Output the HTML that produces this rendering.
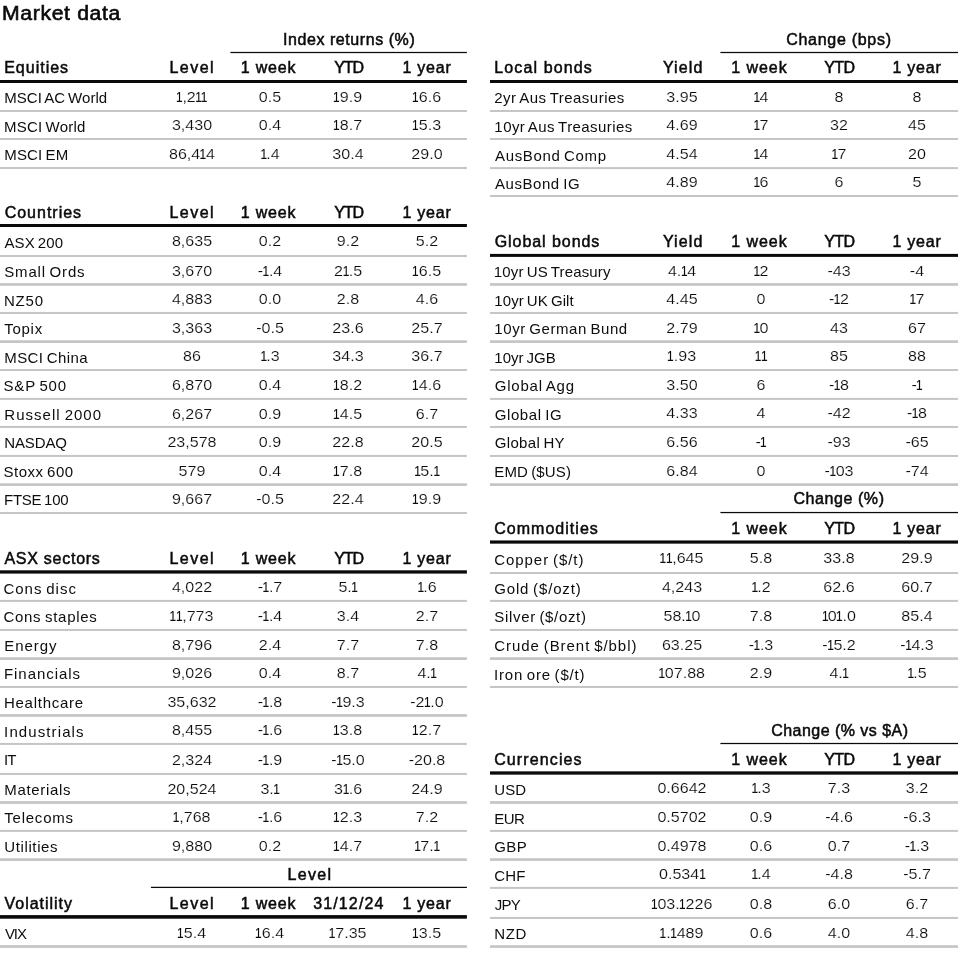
<!DOCTYPE html>
<html lang="en"><head><meta charset="utf-8"><title>Market data</title>
<style>
html,body{margin:0;padding:0;background:#fff;overflow:hidden}
main{position:absolute;left:0;top:0;width:960px;height:962px;overflow:hidden}
body{width:960px;height:962px;position:relative;overflow:hidden;filter:grayscale(1) blur(0.3px);font-family:"Liberation Sans",Arial,sans-serif}
svg.ln{position:absolute;left:0;top:0}
span,h1{position:absolute;white-space:pre;line-height:20px;margin:0;font-weight:normal}
.title{font-size:20px;line-height:24px;color:#0a0a0a;letter-spacing:0.6px;-webkit-text-stroke:0.6px #0a0a0a;transform:scaleX(1.06);transform-origin:0 0}
.h{font-size:16px;color:#0a0a0a;-webkit-text-stroke:0.5px #0a0a0a}
.l{font-size:15px;color:#0d0d0d;word-spacing:-1.2px}
.n{font-size:15px;color:#0d0d0d;width:76px;text-align:center;transform:scaleX(1.07);-webkit-text-stroke:0.16px #fff}
.n i{font-style:normal;display:inline-block;position:static;transform:scaleX(.74);margin:0 -1.4px 0 -1.5px;-webkit-text-stroke:0.12px #0d0d0d}
</style></head>
<body>
<main>
<svg class="ln" width="960" height="962" viewBox="0 0 960 962">
<rect x="230.40" y="51.88" width="236.50" height="1.25" fill="#0a0a0a"/>
<rect x="0.00" y="80.00" width="466.90" height="3.00" fill="#0a0a0a"/>
<rect x="0.00" y="110.00" width="466.90" height="2.00" fill="#c3c5c8"/>
<rect x="0.00" y="138.00" width="466.90" height="2.00" fill="#c3c5c8"/>
<rect x="0.00" y="167.00" width="466.90" height="2.00" fill="#c3c5c8"/>
<rect x="0.00" y="224.00" width="466.90" height="3.00" fill="#0a0a0a"/>
<rect x="0.00" y="255.00" width="466.90" height="2.00" fill="#c3c5c8"/>
<rect x="0.00" y="283.10" width="466.90" height="2.70" fill="#c3c5c8"/>
<rect x="0.00" y="311.95" width="466.90" height="2.00" fill="#c3c5c8"/>
<rect x="0.00" y="340.25" width="466.90" height="2.70" fill="#c3c5c8"/>
<rect x="0.00" y="369.00" width="466.90" height="2.00" fill="#c3c5c8"/>
<rect x="0.00" y="397.90" width="466.90" height="2.00" fill="#c3c5c8"/>
<rect x="0.00" y="425.95" width="466.90" height="2.00" fill="#c3c5c8"/>
<rect x="0.00" y="454.95" width="466.90" height="2.00" fill="#c3c5c8"/>
<rect x="0.00" y="483.25" width="466.90" height="2.70" fill="#c3c5c8"/>
<rect x="0.00" y="512.00" width="466.90" height="2.00" fill="#c3c5c8"/>
<rect x="0.00" y="570.30" width="466.90" height="3.30" fill="#0a0a0a"/>
<rect x="0.00" y="599.90" width="466.90" height="2.00" fill="#c3c5c8"/>
<rect x="0.00" y="628.95" width="466.90" height="2.00" fill="#c3c5c8"/>
<rect x="0.00" y="657.25" width="466.90" height="2.70" fill="#c3c5c8"/>
<rect x="0.00" y="685.95" width="466.90" height="2.00" fill="#c3c5c8"/>
<rect x="0.00" y="714.10" width="466.90" height="2.70" fill="#c3c5c8"/>
<rect x="0.00" y="742.95" width="466.90" height="2.00" fill="#c3c5c8"/>
<rect x="0.00" y="772.95" width="466.90" height="2.00" fill="#c3c5c8"/>
<rect x="0.00" y="801.15" width="466.90" height="2.70" fill="#c3c5c8"/>
<rect x="0.00" y="829.90" width="466.90" height="2.00" fill="#c3c5c8"/>
<rect x="0.00" y="858.25" width="466.90" height="2.70" fill="#c3c5c8"/>
<rect x="150.90" y="886.77" width="316.00" height="1.25" fill="#0a0a0a"/>
<rect x="0.00" y="915.10" width="466.90" height="3.60" fill="#0a0a0a"/>
<rect x="0.00" y="945.15" width="466.90" height="2.70" fill="#c3c5c8"/>
<rect x="720.40" y="51.88" width="237.60" height="1.25" fill="#0a0a0a"/>
<rect x="490.00" y="80.00" width="468.00" height="3.00" fill="#0a0a0a"/>
<rect x="490.00" y="110.00" width="468.00" height="2.00" fill="#c3c5c8"/>
<rect x="490.00" y="138.00" width="468.00" height="2.00" fill="#c3c5c8"/>
<rect x="490.00" y="167.10" width="468.00" height="2.00" fill="#c3c5c8"/>
<rect x="490.00" y="195.00" width="468.00" height="2.00" fill="#c3c5c8"/>
<rect x="490.00" y="253.90" width="468.00" height="3.00" fill="#0a0a0a"/>
<rect x="490.00" y="283.10" width="468.00" height="2.70" fill="#c3c5c8"/>
<rect x="490.00" y="311.95" width="468.00" height="2.00" fill="#c3c5c8"/>
<rect x="490.00" y="340.25" width="468.00" height="2.70" fill="#c3c5c8"/>
<rect x="490.00" y="369.00" width="468.00" height="2.00" fill="#c3c5c8"/>
<rect x="490.00" y="397.90" width="468.00" height="2.00" fill="#c3c5c8"/>
<rect x="490.00" y="425.95" width="468.00" height="2.00" fill="#c3c5c8"/>
<rect x="490.00" y="454.95" width="468.00" height="2.00" fill="#c3c5c8"/>
<rect x="490.00" y="483.25" width="468.00" height="2.70" fill="#c3c5c8"/>
<rect x="720.40" y="511.92" width="237.60" height="1.25" fill="#0a0a0a"/>
<rect x="490.00" y="540.45" width="468.00" height="3.20" fill="#0a0a0a"/>
<rect x="490.00" y="572.00" width="468.00" height="2.00" fill="#c3c5c8"/>
<rect x="490.00" y="599.90" width="468.00" height="2.00" fill="#c3c5c8"/>
<rect x="490.00" y="628.95" width="468.00" height="2.00" fill="#c3c5c8"/>
<rect x="490.00" y="657.25" width="468.00" height="2.70" fill="#c3c5c8"/>
<rect x="490.00" y="685.95" width="468.00" height="2.00" fill="#c3c5c8"/>
<rect x="720.40" y="742.88" width="237.60" height="1.25" fill="#0a0a0a"/>
<rect x="490.00" y="771.35" width="468.00" height="3.30" fill="#0a0a0a"/>
<rect x="490.00" y="801.15" width="468.00" height="2.70" fill="#c3c5c8"/>
<rect x="490.00" y="829.90" width="468.00" height="2.00" fill="#c3c5c8"/>
<rect x="490.00" y="858.20" width="468.00" height="2.70" fill="#c3c5c8"/>
<rect x="490.00" y="886.90" width="468.00" height="2.00" fill="#c3c5c8"/>
<rect x="490.00" y="916.95" width="468.00" height="2.00" fill="#c3c5c8"/>
<rect x="490.00" y="945.20" width="468.00" height="2.70" fill="#c3c5c8"/>
</svg>
<h1 class="title" style="left:1.7px;top:1px">Market data</h1>
<section class="tb" aria-label="Equities">
<div class="r sup">
<span class="h" style="left:283.02px;top:30px;letter-spacing:0.562px">Index returns (%)</span>
</div>
<div class="r hd">
<span class="h" style="left:4.19px;top:58px;letter-spacing:0.996px">Equities</span>
<span class="h" style="left:169.44px;top:58px;letter-spacing:1.471px">Level</span>
<span class="h" style="left:240.78px;top:58px;letter-spacing:0.798px">1 week</span>
<span class="h" style="left:334.15px;top:58px;letter-spacing:-1.066px">YTD</span>
<span class="h" style="left:402.53px;top:58px;letter-spacing:0.753px">1 year</span>
</div>
<div class="r">
<span class="l" style="left:4.27px;top:88px;letter-spacing:0.050px">MSCI AC World</span>
<span class="n" style="left:154.00px;top:87px"><i>1</i>,2<i>1</i><i>1</i></span>
<span class="n" style="left:231.90px;top:87px">0.5</span>
<span class="n" style="left:310.40px;top:87px"><i>1</i>9.9</span>
<span class="n" style="left:389.30px;top:87px"><i>1</i>6.6</span>
</div>
<div class="r">
<span class="l" style="left:3.97px;top:117px;letter-spacing:0.235px">MSCI World</span>
<span class="n" style="left:154.00px;top:115px">3,430</span>
<span class="n" style="left:231.90px;top:115px">0.4</span>
<span class="n" style="left:310.40px;top:115px"><i>1</i>8.7</span>
<span class="n" style="left:389.30px;top:115px"><i>1</i>5.3</span>
</div>
<div class="r">
<span class="l" style="left:4.27px;top:145px;letter-spacing:0.165px">MSCI EM</span>
<span class="n" style="left:154.00px;top:144px">86,4<i>1</i>4</span>
<span class="n" style="left:231.90px;top:144px"><i>1</i>.4</span>
<span class="n" style="left:310.40px;top:144px">30.4</span>
<span class="n" style="left:389.30px;top:144px">29.0</span>
</div>
</section>
<section class="tb" aria-label="Countries">
<div class="r hd">
<span class="h" style="left:4.69px;top:203px;letter-spacing:0.988px">Countries</span>
<span class="h" style="left:169.44px;top:203px;letter-spacing:1.471px">Level</span>
<span class="h" style="left:240.78px;top:203px;letter-spacing:0.798px">1 week</span>
<span class="h" style="left:334.15px;top:203px;letter-spacing:-1.066px">YTD</span>
<span class="h" style="left:402.53px;top:203px;letter-spacing:0.753px">1 year</span>
</div>
<div class="r">
<span class="l" style="left:4.47px;top:233px;letter-spacing:0.099px">ASX 200</span>
<span class="n" style="left:154.00px;top:231px">8,635</span>
<span class="n" style="left:231.90px;top:231px">0.2</span>
<span class="n" style="left:310.40px;top:231px">9.2</span>
<span class="n" style="left:389.30px;top:231px">5.2</span>
</div>
<div class="r">
<span class="l" style="left:4.32px;top:262px;letter-spacing:0.804px">Small Ords</span>
<span class="n" style="left:154.00px;top:261px">3,670</span>
<span class="n" style="left:231.90px;top:261px">-<i>1</i>.4</span>
<span class="n" style="left:310.40px;top:261px">2<i>1</i>.5</span>
<span class="n" style="left:389.30px;top:261px"><i>1</i>6.5</span>
</div>
<div class="r">
<span class="l" style="left:3.97px;top:291px;letter-spacing:0.810px">NZ50</span>
<span class="n" style="left:154.00px;top:289px">4,883</span>
<span class="n" style="left:231.90px;top:289px">0.0</span>
<span class="n" style="left:310.40px;top:289px">2.8</span>
<span class="n" style="left:389.30px;top:289px">4.6</span>
</div>
<div class="r">
<span class="l" style="left:4.26px;top:319px;letter-spacing:0.717px">Topix</span>
<span class="n" style="left:154.00px;top:318px">3,363</span>
<span class="n" style="left:231.90px;top:318px">-0.5</span>
<span class="n" style="left:310.40px;top:318px">23.6</span>
<span class="n" style="left:389.30px;top:318px">25.7</span>
</div>
<div class="r">
<span class="l" style="left:4.27px;top:348px;letter-spacing:0.397px">MSCI China</span>
<span class="n" style="left:154.00px;top:346px">86</span>
<span class="n" style="left:231.90px;top:346px"><i>1</i>.3</span>
<span class="n" style="left:310.40px;top:346px">34.3</span>
<span class="n" style="left:389.30px;top:346px">36.7</span>
</div>
<div class="r">
<span class="l" style="left:3.52px;top:376px;letter-spacing:0.802px">S&amp;P 500</span>
<span class="n" style="left:154.00px;top:375px">6,870</span>
<span class="n" style="left:231.90px;top:375px">0.4</span>
<span class="n" style="left:310.40px;top:375px"><i>1</i>8.2</span>
<span class="n" style="left:389.30px;top:375px"><i>1</i>4.6</span>
</div>
<div class="r">
<span class="l" style="left:4.27px;top:405px;letter-spacing:1.027px">Russell 2000</span>
<span class="n" style="left:154.00px;top:404px">6,267</span>
<span class="n" style="left:231.90px;top:404px">0.9</span>
<span class="n" style="left:310.40px;top:404px"><i>1</i>4.5</span>
<span class="n" style="left:389.30px;top:404px">6.7</span>
</div>
<div class="r">
<span class="l" style="left:4.27px;top:433px;letter-spacing:-0.132px">NASDAQ</span>
<span class="n" style="left:154.00px;top:432px">23,578</span>
<span class="n" style="left:231.90px;top:432px">0.9</span>
<span class="n" style="left:310.40px;top:432px">22.8</span>
<span class="n" style="left:389.30px;top:432px">20.5</span>
</div>
<div class="r">
<span class="l" style="left:3.52px;top:462px;letter-spacing:0.506px">Stoxx 600</span>
<span class="n" style="left:154.00px;top:461px">579</span>
<span class="n" style="left:231.90px;top:461px">0.4</span>
<span class="n" style="left:310.40px;top:461px"><i>1</i>7.8</span>
<span class="n" style="left:389.30px;top:461px"><i>1</i>5.<i>1</i></span>
</div>
<div class="r">
<span class="l" style="left:3.97px;top:490px;letter-spacing:-0.245px">FTSE 100</span>
<span class="n" style="left:154.00px;top:489px">9,667</span>
<span class="n" style="left:231.90px;top:489px">-0.5</span>
<span class="n" style="left:310.40px;top:489px">22.4</span>
<span class="n" style="left:389.30px;top:489px"><i>1</i>9.9</span>
</div>
</section>
<section class="tb" aria-label="ASX sectors">
<div class="r hd">
<span class="h" style="left:4.47px;top:549px;letter-spacing:0.733px">ASX sectors</span>
<span class="h" style="left:169.44px;top:549px;letter-spacing:1.471px">Level</span>
<span class="h" style="left:240.78px;top:549px;letter-spacing:0.798px">1 week</span>
<span class="h" style="left:334.15px;top:549px;letter-spacing:-1.066px">YTD</span>
<span class="h" style="left:402.53px;top:549px;letter-spacing:0.753px">1 year</span>
</div>
<div class="r">
<span class="l" style="left:3.44px;top:579px;letter-spacing:0.975px">Cons disc</span>
<span class="n" style="left:154.00px;top:577px">4,022</span>
<span class="n" style="left:231.90px;top:577px">-<i>1</i>.7</span>
<span class="n" style="left:310.40px;top:577px">5.<i>1</i></span>
<span class="n" style="left:389.30px;top:577px"><i>1</i>.6</span>
</div>
<div class="r">
<span class="l" style="left:3.44px;top:607px;letter-spacing:0.712px">Cons staples</span>
<span class="n" style="left:154.00px;top:606px"><i>1</i><i>1</i>,773</span>
<span class="n" style="left:231.90px;top:606px">-<i>1</i>.4</span>
<span class="n" style="left:310.40px;top:606px">3.4</span>
<span class="n" style="left:389.30px;top:606px">2.7</span>
</div>
<div class="r">
<span class="l" style="left:4.27px;top:636px;letter-spacing:0.946px">Energy</span>
<span class="n" style="left:154.00px;top:635px">8,796</span>
<span class="n" style="left:231.90px;top:635px">2.4</span>
<span class="n" style="left:310.40px;top:635px">7.7</span>
<span class="n" style="left:389.30px;top:635px">7.8</span>
</div>
<div class="r">
<span class="l" style="left:3.97px;top:664px;letter-spacing:0.949px">Financials</span>
<span class="n" style="left:154.00px;top:663px">9,026</span>
<span class="n" style="left:231.90px;top:663px">0.4</span>
<span class="n" style="left:310.40px;top:663px">8.7</span>
<span class="n" style="left:389.30px;top:663px">4.<i>1</i></span>
</div>
<div class="r">
<span class="l" style="left:3.97px;top:693px;letter-spacing:0.739px">Healthcare</span>
<span class="n" style="left:154.00px;top:692px">35,632</span>
<span class="n" style="left:231.90px;top:692px">-<i>1</i>.8</span>
<span class="n" style="left:310.40px;top:692px">-<i>1</i>9.3</span>
<span class="n" style="left:389.30px;top:692px">-2<i>1</i>.0</span>
</div>
<div class="r">
<span class="l" style="left:4.12px;top:722px;letter-spacing:1.105px">Industrials</span>
<span class="n" style="left:154.00px;top:720px">8,455</span>
<span class="n" style="left:231.90px;top:720px">-<i>1</i>.6</span>
<span class="n" style="left:310.40px;top:720px"><i>1</i>3.8</span>
<span class="n" style="left:389.30px;top:720px"><i>1</i>2.7</span>
</div>
<div class="r">
<span class="l" style="left:3.92px;top:750px;letter-spacing:-0.915px">IT</span>
<span class="n" style="left:154.00px;top:750px">2,324</span>
<span class="n" style="left:231.90px;top:750px">-<i>1</i>.9</span>
<span class="n" style="left:310.40px;top:750px">-<i>1</i>5.0</span>
<span class="n" style="left:389.30px;top:750px">-20.8</span>
</div>
<div class="r">
<span class="l" style="left:4.27px;top:780px;letter-spacing:0.677px">Materials</span>
<span class="n" style="left:154.00px;top:779px">20,524</span>
<span class="n" style="left:231.90px;top:779px">3.<i>1</i></span>
<span class="n" style="left:310.40px;top:779px">3<i>1</i>.6</span>
<span class="n" style="left:389.30px;top:779px">24.9</span>
</div>
<div class="r">
<span class="l" style="left:4.26px;top:808px;letter-spacing:0.774px">Telecoms</span>
<span class="n" style="left:154.00px;top:807px"><i>1</i>,768</span>
<span class="n" style="left:231.90px;top:807px">-<i>1</i>.6</span>
<span class="n" style="left:310.40px;top:807px"><i>1</i>2.3</span>
<span class="n" style="left:389.30px;top:807px">7.2</span>
</div>
<div class="r">
<span class="l" style="left:4.34px;top:837px;letter-spacing:0.607px">Utilities</span>
<span class="n" style="left:154.00px;top:836px">9,880</span>
<span class="n" style="left:231.90px;top:836px">0.2</span>
<span class="n" style="left:310.40px;top:836px"><i>1</i>4.7</span>
<span class="n" style="left:389.30px;top:836px"><i>1</i>7.<i>1</i></span>
</div>
</section>
<section class="tb" aria-label="Volatility">
<div class="r sup">
<span class="h" style="left:287.44px;top:865px;letter-spacing:1.346px">Level</span>
</div>
<div class="r hd">
<span class="h" style="left:4.53px;top:894px;letter-spacing:0.966px">Volatility</span>
<span class="h" style="left:169.44px;top:894px;letter-spacing:1.471px">Level</span>
<span class="h" style="left:240.78px;top:894px;letter-spacing:0.798px">1 week</span>
<span class="h" style="left:313.14px;top:894px;letter-spacing:1.150px">31/12/24</span>
<span class="h" style="left:402.53px;top:894px;letter-spacing:0.753px">1 year</span>
</div>
<div class="r">
<span class="l" style="left:4.93px;top:924px;letter-spacing:-1.053px">VIX</span>
<span class="n" style="left:154.00px;top:923px"><i>1</i>5.4</span>
<span class="n" style="left:231.90px;top:923px"><i>1</i>6.4</span>
<span class="n" style="left:310.40px;top:923px"><i>1</i>7.35</span>
<span class="n" style="left:389.30px;top:923px"><i>1</i>3.5</span>
</div>
</section>
<section class="tb" aria-label="Local bonds">
<div class="r sup">
<span class="h" style="left:786.19px;top:30px;letter-spacing:0.714px">Change (bps)</span>
</div>
<div class="r hd">
<span class="h" style="left:494.19px;top:58px;letter-spacing:1.134px">Local bonds</span>
<span class="h" style="left:662.90px;top:58px;letter-spacing:1.100px">Yield</span>
<span class="h" style="left:731.28px;top:58px;letter-spacing:0.948px">1 week</span>
<span class="h" style="left:824.15px;top:58px;letter-spacing:-0.566px">YTD</span>
<span class="h" style="left:892.53px;top:58px;letter-spacing:0.753px">1 year</span>
</div>
<div class="r">
<span class="l" style="left:494.25px;top:88px;letter-spacing:0.484px">2yr Aus Treasuries</span>
<span class="n" style="left:644.20px;top:87px">3.95</span>
<span class="n" style="left:722.50px;top:87px"><i>1</i>4</span>
<span class="n" style="left:800.80px;top:87px">8</span>
<span class="n" style="left:879.30px;top:87px">8</span>
</div>
<div class="r">
<span class="l" style="left:494.36px;top:117px;letter-spacing:0.432px">10yr Aus Treasuries</span>
<span class="n" style="left:644.20px;top:115px">4.69</span>
<span class="n" style="left:722.50px;top:115px"><i>1</i>7</span>
<span class="n" style="left:800.80px;top:115px">32</span>
<span class="n" style="left:879.30px;top:115px">45</span>
</div>
<div class="r">
<span class="l" style="left:494.97px;top:146px;letter-spacing:0.663px">AusBond Comp</span>
<span class="n" style="left:644.20px;top:144px">4.54</span>
<span class="n" style="left:722.50px;top:144px"><i>1</i>4</span>
<span class="n" style="left:800.80px;top:144px"><i>1</i>7</span>
<span class="n" style="left:879.30px;top:144px">20</span>
</div>
<div class="r">
<span class="l" style="left:494.97px;top:174px;letter-spacing:0.551px">AusBond IG</span>
<span class="n" style="left:644.20px;top:172px">4.89</span>
<span class="n" style="left:722.50px;top:172px"><i>1</i>6</span>
<span class="n" style="left:800.80px;top:172px">6</span>
<span class="n" style="left:879.30px;top:172px">5</span>
</div>
</section>
<section class="tb" aria-label="Global bonds">
<div class="r hd">
<span class="h" style="left:494.70px;top:232px;letter-spacing:0.940px">Global bonds</span>
<span class="h" style="left:662.90px;top:232px;letter-spacing:1.100px">Yield</span>
<span class="h" style="left:731.28px;top:232px;letter-spacing:0.948px">1 week</span>
<span class="h" style="left:824.15px;top:232px;letter-spacing:-0.566px">YTD</span>
<span class="h" style="left:892.53px;top:232px;letter-spacing:0.753px">1 year</span>
</div>
<div class="r">
<span class="l" style="left:493.86px;top:262px;letter-spacing:0.157px">10yr US Treasury</span>
<span class="n" style="left:644.20px;top:261px">4.<i>1</i>4</span>
<span class="n" style="left:722.50px;top:261px"><i>1</i>2</span>
<span class="n" style="left:800.80px;top:261px">-43</span>
<span class="n" style="left:879.30px;top:261px">-4</span>
</div>
<div class="r">
<span class="l" style="left:494.36px;top:291px;letter-spacing:0.072px">10yr UK Gilt</span>
<span class="n" style="left:644.20px;top:289px">4.45</span>
<span class="n" style="left:722.50px;top:289px">0</span>
<span class="n" style="left:800.80px;top:289px">-<i>1</i>2</span>
<span class="n" style="left:879.30px;top:289px"><i>1</i>7</span>
</div>
<div class="r">
<span class="l" style="left:494.36px;top:319px;letter-spacing:0.568px">10yr German Bund</span>
<span class="n" style="left:644.20px;top:318px">2.79</span>
<span class="n" style="left:722.50px;top:318px"><i>1</i>0</span>
<span class="n" style="left:800.80px;top:318px">43</span>
<span class="n" style="left:879.30px;top:318px">67</span>
</div>
<div class="r">
<span class="l" style="left:494.36px;top:348px;letter-spacing:0.015px">10yr JGB</span>
<span class="n" style="left:644.20px;top:346px"><i>1</i>.93</span>
<span class="n" style="left:722.50px;top:346px"><i>1</i><i>1</i></span>
<span class="n" style="left:800.80px;top:346px">85</span>
<span class="n" style="left:879.30px;top:346px">88</span>
</div>
<div class="r">
<span class="l" style="left:494.75px;top:376px;letter-spacing:0.781px">Global Agg</span>
<span class="n" style="left:644.20px;top:375px">3.50</span>
<span class="n" style="left:722.50px;top:375px">6</span>
<span class="n" style="left:800.80px;top:375px">-<i>1</i>8</span>
<span class="n" style="left:879.30px;top:375px">-<i>1</i></span>
</div>
<div class="r">
<span class="l" style="left:494.75px;top:405px;letter-spacing:0.588px">Global IG</span>
<span class="n" style="left:644.20px;top:403px">4.33</span>
<span class="n" style="left:722.50px;top:403px">4</span>
<span class="n" style="left:800.80px;top:403px">-42</span>
<span class="n" style="left:879.30px;top:403px">-<i>1</i>8</span>
</div>
<div class="r">
<span class="l" style="left:494.75px;top:433px;letter-spacing:0.332px">Global HY</span>
<span class="n" style="left:644.20px;top:432px">6.56</span>
<span class="n" style="left:722.50px;top:432px">-<i>1</i></span>
<span class="n" style="left:800.80px;top:432px">-93</span>
<span class="n" style="left:879.30px;top:432px">-65</span>
</div>
<div class="r">
<span class="l" style="left:494.27px;top:462px;letter-spacing:0.149px">EMD ($US)</span>
<span class="n" style="left:644.20px;top:461px">6.84</span>
<span class="n" style="left:722.50px;top:461px">0</span>
<span class="n" style="left:800.80px;top:461px">-<i>1</i>03</span>
<span class="n" style="left:879.30px;top:461px">-74</span>
</div>
</section>
<section class="tb" aria-label="Commodities">
<div class="r sup">
<span class="h" style="left:793.44px;top:489px;letter-spacing:0.576px">Change (%)</span>
</div>
<div class="r hd">
<span class="h" style="left:494.19px;top:519px;letter-spacing:1.028px">Commodities</span>
<span class="h" style="left:731.28px;top:519px;letter-spacing:0.948px">1 week</span>
<span class="h" style="left:824.15px;top:519px;letter-spacing:-0.566px">YTD</span>
<span class="h" style="left:892.53px;top:519px;letter-spacing:0.753px">1 year</span>
</div>
<div class="r">
<span class="l" style="left:494.24px;top:550px;letter-spacing:0.940px">Copper ($/t)</span>
<span class="n" style="left:644.20px;top:548px"><i>1</i><i>1</i>,645</span>
<span class="n" style="left:722.50px;top:548px">5.8</span>
<span class="n" style="left:800.80px;top:548px">33.8</span>
<span class="n" style="left:879.30px;top:548px">29.9</span>
</div>
<div class="r">
<span class="l" style="left:494.25px;top:579px;letter-spacing:0.842px">Gold ($/ozt)</span>
<span class="n" style="left:644.20px;top:577px">4,243</span>
<span class="n" style="left:722.50px;top:577px"><i>1</i>.2</span>
<span class="n" style="left:800.80px;top:577px">62.6</span>
<span class="n" style="left:879.30px;top:577px">60.7</span>
</div>
<div class="r">
<span class="l" style="left:494.32px;top:607px;letter-spacing:0.663px">Silver ($/ozt)</span>
<span class="n" style="left:644.20px;top:606px">58.<i>1</i>0</span>
<span class="n" style="left:722.50px;top:606px">7.8</span>
<span class="n" style="left:800.80px;top:606px"><i>1</i>0<i>1</i>.0</span>
<span class="n" style="left:879.30px;top:606px">85.4</span>
</div>
<div class="r">
<span class="l" style="left:494.24px;top:636px;letter-spacing:0.946px">Crude (Brent $/bbl)</span>
<span class="n" style="left:644.20px;top:635px">63.25</span>
<span class="n" style="left:722.50px;top:635px">-<i>1</i>.3</span>
<span class="n" style="left:800.80px;top:635px">-<i>1</i>5.2</span>
<span class="n" style="left:879.30px;top:635px">-<i>1</i>4.3</span>
</div>
<div class="r">
<span class="l" style="left:494.12px;top:665px;letter-spacing:0.783px">Iron ore ($/t)</span>
<span class="n" style="left:644.20px;top:663px"><i>1</i>07.88</span>
<span class="n" style="left:722.50px;top:663px">2.9</span>
<span class="n" style="left:800.80px;top:663px">4.<i>1</i></span>
<span class="n" style="left:879.30px;top:663px"><i>1</i>.5</span>
</div>
</section>
<section class="tb" aria-label="Currencies">
<div class="r sup">
<span class="h" style="left:771.19px;top:721px;letter-spacing:0.464px">Change (% vs $A)</span>
</div>
<div class="r hd">
<span class="h" style="left:494.19px;top:750px;letter-spacing:1.115px">Currencies</span>
<span class="h" style="left:731.28px;top:750px;letter-spacing:0.948px">1 week</span>
<span class="h" style="left:824.15px;top:750px;letter-spacing:-0.566px">YTD</span>
<span class="h" style="left:892.53px;top:750px;letter-spacing:0.753px">1 year</span>
</div>
<div class="r">
<span class="l" style="left:494.34px;top:780px;letter-spacing:0.102px">USD</span>
<span class="n" style="left:644.20px;top:778px">0.6642</span>
<span class="n" style="left:722.50px;top:778px"><i>1</i>.3</span>
<span class="n" style="left:800.80px;top:778px">7.3</span>
<span class="n" style="left:879.30px;top:778px">3.2</span>
</div>
<div class="r">
<span class="l" style="left:494.27px;top:809px;letter-spacing:-0.498px">EUR</span>
<span class="n" style="left:644.20px;top:807px">0.5702</span>
<span class="n" style="left:722.50px;top:807px">0.9</span>
<span class="n" style="left:800.80px;top:807px">-4.6</span>
<span class="n" style="left:879.30px;top:807px">-6.3</span>
</div>
<div class="r">
<span class="l" style="left:494.25px;top:837px;letter-spacing:0.429px">GBP</span>
<span class="n" style="left:644.20px;top:836px">0.4978</span>
<span class="n" style="left:722.50px;top:836px">0.6</span>
<span class="n" style="left:800.80px;top:836px">0.7</span>
<span class="n" style="left:879.30px;top:836px">-<i>1</i>.3</span>
</div>
<div class="r">
<span class="l" style="left:494.24px;top:866px;letter-spacing:0.142px">CHF</span>
<span class="n" style="left:644.20px;top:864px">0.534<i>1</i></span>
<span class="n" style="left:722.50px;top:864px"><i>1</i>.4</span>
<span class="n" style="left:800.80px;top:864px">-4.8</span>
<span class="n" style="left:879.30px;top:864px">-5.7</span>
</div>
<div class="r">
<span class="l" style="left:494.77px;top:895px;letter-spacing:-0.726px">JPY</span>
<span class="n" style="left:644.20px;top:894px"><i>1</i>03.<i>1</i>226</span>
<span class="n" style="left:722.50px;top:894px">0.8</span>
<span class="n" style="left:800.80px;top:894px">6.0</span>
<span class="n" style="left:879.30px;top:894px">6.7</span>
</div>
<div class="r">
<span class="l" style="left:494.27px;top:924px;letter-spacing:0.560px">NZD</span>
<span class="n" style="left:644.20px;top:923px"><i>1</i>.<i>1</i>489</span>
<span class="n" style="left:722.50px;top:923px">0.6</span>
<span class="n" style="left:800.80px;top:923px">4.0</span>
<span class="n" style="left:879.30px;top:923px">4.8</span>
</div>
</section>
</main>
</body></html>
